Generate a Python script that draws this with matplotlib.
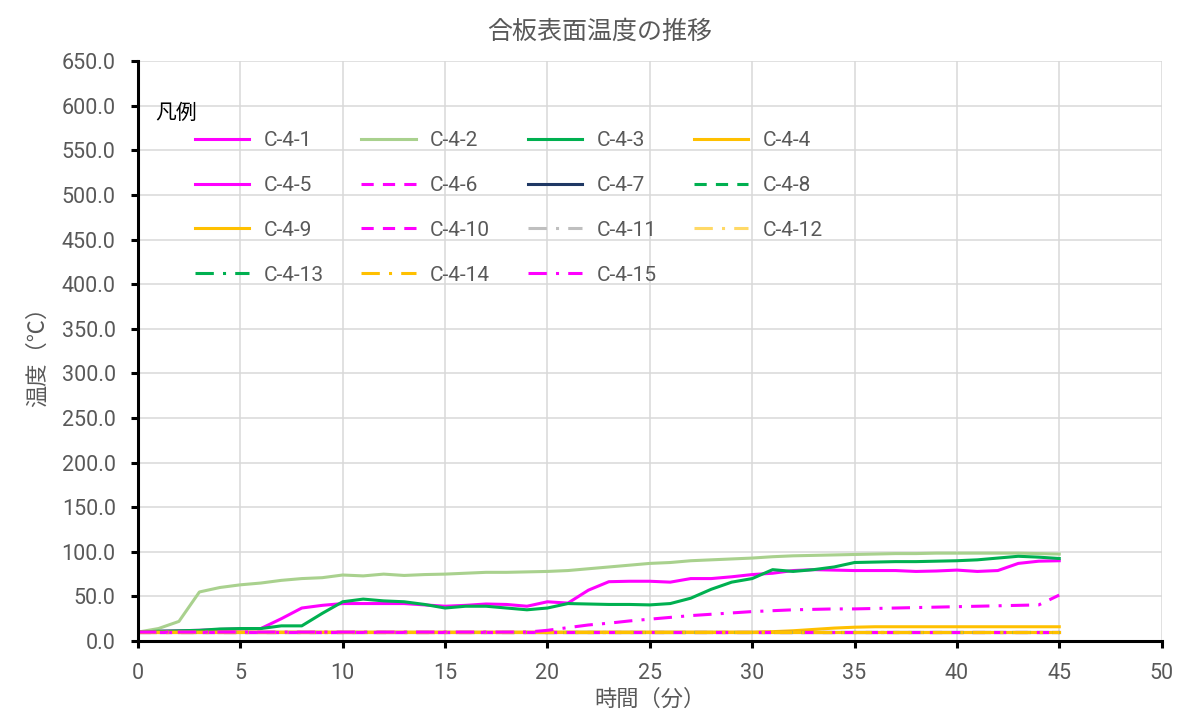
import matplotlib
matplotlib.use('Agg')
import matplotlib.pyplot as plt
from matplotlib.ticker import MultipleLocator, FormatStrFormatter

plt.rcParams['font.family'] = ['Roboto', 'Noto Sans CJK JP', 'DejaVu Sans']

# 時間（分）
minutes = [0, 1, 2, 3, 4, 5, 6, 7, 8, 9, 10, 11, 12, 13, 14, 15, 16, 17, 18, 19, 20, 21, 22,
           23, 24, 25, 26, 27, 28, 29, 30, 31, 32, 33, 34, 35, 36, 37, 38, 39, 40, 41, 42,
           43, 44, 45]

c4_1 = [10, 11, 11.5, 12, 13, 13.5, 14, 25, 37, 40, 42, 42, 42, 42, 40.5, 39, 40, 41.5, 41,
        39, 44, 42.5, 57, 66.5, 67, 67, 66, 70, 70, 72, 74.5, 76, 79, 80, 79.5, 79, 79, 79,
        78, 78.5, 79.5, 78, 79, 87, 89.5, 90]
c4_2 = [10, 14, 22, 55, 60, 63, 65, 68, 70, 71, 74, 73, 75, 73.5, 74.5, 75, 76, 77, 77, 77.5,
        78, 79, 81, 83, 85, 87, 88, 90, 91, 92, 93, 94.5, 95.5, 96, 96.5, 97, 97.5, 98, 98,
        98.5, 98.5, 98.5, 98.5, 98.5, 98, 97.5]
c4_3 = [10, 11, 11.5, 12, 13.5, 14, 14, 17, 17, 31, 44, 47, 45, 44, 41, 37, 39, 39, 37, 35,
        37, 42, 41.5, 41, 41, 40.5, 42, 48, 58, 66, 70, 80, 78, 80, 83, 88, 88.5, 89, 89, 89.5,
        90, 91, 93, 95, 94, 92.5]
c4_15 = [10, 10, 10, 10, 10, 10, 10, 10, 10, 10, 10, 10, 10, 10, 10, 10, 10, 10, 10, 10,
         12, 15, 18, 20, 22.5, 24.5, 26.5, 28.5, 30, 31.5, 33, 34, 35, 35.5, 36, 36, 36.5, 37,
         37.5, 38, 38.5, 39, 39.5, 40, 40.5, 51.5]

c4_4_t = [0, 30, 31, 32, 33, 34, 35, 36, 40, 45]
c4_4 = [10, 10, 10.5, 11.5, 13, 14.5, 15.5, 16, 16, 16]

flat_t = [0, 45]
flat_v = [10, 10]

series_names = ['C-4-1', 'C-4-2', 'C-4-3', 'C-4-4', 'C-4-5', 'C-4-6', 'C-4-7', 'C-4-8',
                'C-4-9', 'C-4-10', 'C-4-11', 'C-4-12', 'C-4-13', 'C-4-14', 'C-4-15']

magenta = '#FF00FF'
dash = (0, (4, 3))
dashdot = (0, (6, 3, 1, 3))
styles = {
    'C-4-1': (magenta, '-'),
    'C-4-2': ('#A9D18E', '-'),
    'C-4-3': ('#00B050', '-'),
    'C-4-4': ('#FFC000', '-'),
    'C-4-5': (magenta, '-'),
    'C-4-6': (magenta, dash),
    'C-4-7': ('#1F3864', '-'),
    'C-4-8': ('#00B050', dash),
    'C-4-9': ('#FFC000', '-'),
    'C-4-10': (magenta, dash),
    'C-4-11': ('#BFBFBF', dashdot),
    'C-4-12': ('#FFD966', dashdot),
    'C-4-13': ('#00B050', dashdot),
    'C-4-14': ('#FFC000', dashdot),
    'C-4-15': (magenta, dashdot),
}
data = {
    'C-4-1': (minutes, c4_1),
    'C-4-2': (minutes, c4_2),
    'C-4-3': (minutes, c4_3),
    'C-4-4': (c4_4_t, c4_4),
    'C-4-15': (minutes, c4_15),
}

fig = plt.figure(figsize=(12, 7.24), dpi=100)
ax = fig.add_axes([0.115, 0.1146, 0.853, 0.801])

handles = {}
for name in series_names:
    t, v = data.get(name, (flat_t, flat_v))
    color, ls = styles[name]
    line, = ax.plot(t, v, color=color, linestyle=ls, linewidth=2.2, label=name)
    handles[name] = line

ax.set_xlim(0, 50)
ax.set_ylim(0, 650)
ax.xaxis.set_major_locator(MultipleLocator(5))
ax.yaxis.set_major_locator(MultipleLocator(50))
ax.yaxis.set_major_formatter(FormatStrFormatter('%.1f'))
ax.grid(True, color='#D9D9D9', linewidth=1.1)
ax.set_axisbelow(True)
for s in ['top', 'right']:
    ax.spines[s].set_visible(False)
for s in ['left', 'bottom']:
    ax.spines[s].set_linewidth(2.2)
    ax.spines[s].set_color('black')
ax.tick_params(direction='out', length=5, width=2.2, color='black',
               labelcolor='#595959', labelsize=15.5, pad=11)

ax.set_xlabel('時間（分）', fontsize=16, color='#595959', labelpad=4)
ax.set_ylabel('温度（℃）', fontsize=16, color='#595959', labelpad=9)
fig.suptitle('合板表面温度の推移', x=0.5, y=0.956, va='center', fontsize=18, color='#595959')

# 凡例 (列ごとに並べ替え)
order = ['C-4-1', 'C-4-5', 'C-4-9', 'C-4-13',
         'C-4-2', 'C-4-6', 'C-4-10', 'C-4-14',
         'C-4-3', 'C-4-7', 'C-4-11', 'C-4-15',
         'C-4-4', 'C-4-8', 'C-4-12']
ax.text(0.0166, 0.910, '凡例', transform=ax.transAxes, fontsize=15, color='black',
        va='center', ha='left')
leg = ax.legend([handles[n] for n in order], order, ncol=4, loc='upper left',
                bbox_to_anchor=(0.0557, 0.8794), frameon=False, fontsize=15,
                handlelength=2.6, handletextpad=0.7, columnspacing=1.8,
                labelspacing=1.24, borderpad=0, borderaxespad=0)
for txt in leg.get_texts():
    txt.set_color('#595959')

fig.savefig('out.png', dpi=100)
